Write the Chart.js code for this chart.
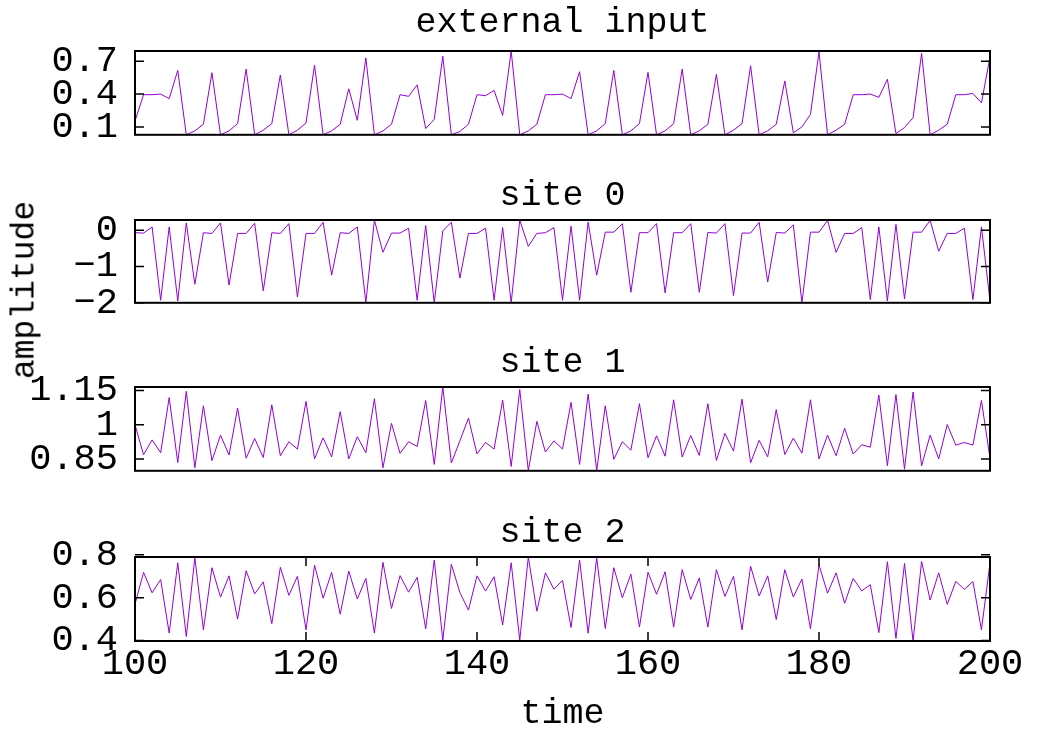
<!DOCTYPE html>
<html>
<head>
<meta charset="utf-8">
<script src="https://cdn.jsdelivr.net/npm/chart.js@4/dist/chart.umd.min.js"></script>
<style>
  body { margin: 0; background: #fff; width: 1037px; height: 731px; position: relative; overflow: hidden; }
  .panel { position: absolute; left: 0; width: 1037px; }
  #ylab { position: absolute; left: 25px; top: 290px; transform: translate(-50%, -50%) rotate(-90deg);
          font-family: "Liberation Mono", monospace; font-size: 33px; white-space: nowrap; color: #000; }
</style>
</head>
<body>
<div class="panel" style="top:4px;height:170px"><canvas id="c0"></canvas></div>
<div class="panel" style="top:177px;height:165px"><canvas id="c1"></canvas></div>
<div class="panel" style="top:344px;height:166px"><canvas id="c2"></canvas></div>
<div class="panel" style="top:514px;height:217px"><canvas id="c3"></canvas></div>
<div id="ylab">amplitude</div>
<script>
// sample times 100..200
const times = Array.from({ length: 101 }, (_, i) => 100 + i);

const extInput = [
  0.154, 0.394, 0.394, 0.400, 0.358, 0.616, 0.028, 0.064, 0.124, 0.595,
  0.028, 0.064, 0.130, 0.628, 0.028, 0.070, 0.130, 0.574, 0.028, 0.070,
  0.136, 0.664, 0.028, 0.064, 0.124, 0.448, 0.160, 0.730, 0.028, 0.064,
  0.124, 0.394, 0.379, 0.484, 0.085, 0.169, 0.745, 0.028, 0.058, 0.124,
  0.394, 0.385, 0.433, 0.205, 0.793, 0.028, 0.064, 0.124, 0.394, 0.394,
  0.400, 0.358, 0.604, 0.028, 0.064, 0.130, 0.616, 0.028, 0.064, 0.130,
  0.598, 0.028, 0.064, 0.130, 0.628, 0.028, 0.064, 0.124, 0.580, 0.028,
  0.070, 0.130, 0.658, 0.028, 0.064, 0.124, 0.520, 0.046, 0.100, 0.214,
  0.784, 0.028, 0.070, 0.124, 0.394, 0.394, 0.400, 0.370, 0.535, 0.040,
  0.094, 0.184, 0.772, 0.028, 0.070, 0.124, 0.394, 0.394, 0.406, 0.319,
  0.739
];

const site0 = [
  -0.07, -0.08, 0.09, -1.93, 0.09, -1.95, 0.20, -1.49, -0.07, -0.09,
  0.20, -1.51, -0.09, -0.09, 0.19, -1.67, -0.07, -0.09, 0.18, -1.84,
  -0.09, -0.09, 0.22, -1.24, -0.07, -0.09, 0.09, -2.00, 0.28, -0.61,
  -0.08, -0.08, 0.055, -1.93, 0.127, -2.00, -0.02, 0.22, -1.32, -0.09,
  -0.09, 0.055, -1.93, 0.07, -2.00, 0.28, -0.445, -0.09, -0.07, 0.07,
  -1.93, 0.11, -1.93, 0.22, -1.24, -0.055, -0.055, 0.18, -1.71, -0.07,
  -0.07, 0.18, -1.73, -0.07, -0.07, 0.18, -1.71, -0.064, -0.08, 0.18,
  -1.80, -0.08, -0.08, 0.22, -1.43, -0.064, -0.08, 0.145, -2.00, -0.055,
  -0.055, 0.27, -0.61, -0.09, -0.09, 0.07, -1.91, 0.09, -1.95, 0.16,
  -1.89, -0.055, -0.055, 0.27, -0.58, -0.09, -0.09, 0.055, -1.91, 0.09,
  -1.95
];

const site1 = [
  1.000, 0.869, 0.934, 0.878, 1.119, 0.835, 1.146, 0.812, 1.083, 0.843,
  0.955, 0.868, 1.073, 0.854, 0.940, 0.857, 1.087, 0.865, 0.926, 0.894,
  1.102, 0.851, 0.943, 0.860, 1.057, 0.851, 0.948, 0.878, 1.114, 0.812,
  1.006, 0.875, 0.926, 0.905, 1.106, 0.827, 1.165, 0.833, 0.930, 1.029,
  0.873, 0.923, 0.894, 1.108, 0.818, 1.154, 0.799, 1.015, 0.881, 0.930,
  0.894, 1.098, 0.827, 1.134, 0.799, 1.083, 0.849, 0.926, 0.889, 1.092,
  0.856, 0.952, 0.863, 1.109, 0.859, 0.953, 0.866, 1.092, 0.844, 0.962,
  0.885, 1.112, 0.834, 0.932, 0.860, 1.066, 0.870, 0.942, 0.876, 1.109,
  0.851, 0.955, 0.865, 0.985, 0.872, 0.913, 0.902, 1.130, 0.821, 1.132,
  0.806, 1.143, 0.821, 0.955, 0.851, 1.001, 0.911, 0.923, 0.911, 1.106,
  0.853
];

const site2 = [
  0.570, 0.718, 0.623, 0.685, 0.435, 0.763, 0.419, 0.787, 0.450, 0.740,
  0.603, 0.702, 0.500, 0.726, 0.618, 0.674, 0.479, 0.742, 0.611, 0.700,
  0.450, 0.752, 0.598, 0.718, 0.523, 0.724, 0.594, 0.690, 0.435, 0.765,
  0.550, 0.703, 0.626, 0.695, 0.455, 0.776, 0.402, 0.756, 0.624, 0.542,
  0.702, 0.631, 0.698, 0.473, 0.763, 0.402, 0.790, 0.537, 0.716, 0.640,
  0.681, 0.461, 0.776, 0.434, 0.787, 0.456, 0.740, 0.600, 0.710, 0.463,
  0.719, 0.616, 0.721, 0.463, 0.731, 0.592, 0.692, 0.463, 0.731, 0.606,
  0.700, 0.450, 0.747, 0.608, 0.702, 0.498, 0.731, 0.603, 0.687, 0.455,
  0.753, 0.621, 0.716, 0.574, 0.690, 0.632, 0.661, 0.437, 0.768, 0.410,
  0.760, 0.398, 0.769, 0.589, 0.716, 0.569, 0.676, 0.639, 0.676, 0.450,
  0.763
];

const titles = ["external input", "site 0", "site 1", "site 2"];
const yTicks = [[0.1, 0.4, 0.7], [-2, -1, 0], [0.85, 1, 1.15], [0.4, 0.6, 0.8]];
const xTicks = [100, 120, 140, 160, 180, 200];

const FONT = "'Liberation Mono', monospace";
const LINE = "#9400d3";

// gnuplot-style frame with inward tick marks
const frame = {
  id: "frame",
  afterDatasetsDraw(chart) {
    const { ctx, chartArea: a, scales } = chart;
    ctx.save();
    ctx.strokeStyle = "#000";
    ctx.lineWidth = 1.5;
    ctx.beginPath();
    scales.y.ticks.forEach(t => {
      const y = scales.y.getPixelForValue(t.value);
      ctx.moveTo(a.left, y); ctx.lineTo(a.left + 9, y);
      ctx.moveTo(a.right, y); ctx.lineTo(a.right - 9, y);
    });
    if (scales.x.options.display) {
      scales.x.ticks.forEach(t => {
        const x = scales.x.getPixelForValue(t.value);
        ctx.moveTo(x, a.bottom); ctx.lineTo(x, a.bottom - 9);
        ctx.moveTo(x, a.top); ctx.lineTo(x, a.top + 9);
      });
    }
    ctx.stroke();
    ctx.lineWidth = 2;
    ctx.strokeRect(a.left, a.top, a.right - a.left, a.bottom - a.top);
    ctx.restore();
  }
};

const series = [extInput, site0, site1, site2];

series.forEach((vals, k) => {
  const last = k === series.length - 1;
  const tickFont = { family: FONT, size: 37, lineHeight: 1.2 };
  new Chart(document.getElementById("c" + k), {
    type: "line",
    data: {
      datasets: [{
        data: vals.map((v, i) => ({ x: times[i], y: v })),
        borderColor: LINE,
        borderWidth: 1,
        pointRadius: 0,
        tension: 0,
        fill: false
      }]
    },
    options: {
      responsive: true,
      maintainAspectRatio: false,
      animation: false,
      layout: { padding: { top: 1, right: 47, bottom: last ? 0 : 20, left: 0 } },
      plugins: {
        legend: { display: false },
        tooltip: { enabled: false },
        title: {
          display: true,
          fullSize: false,
          text: titles[k],
          color: "#000",
          font: { family: FONT, size: 35, weight: "normal", lineHeight: 1 },
          padding: { top: 0, bottom: k === 0 ? 11 : 7 }
        }
      },
      scales: {
        x: {
          type: "linear",
          min: 100,
          max: 200,
          display: last,
          grid: { display: false, drawTicks: false },
          border: { display: false },
          ticks: { color: "#000", font: tickFont, padding: 1, maxRotation: 0, autoSkip: false },
          afterBuildTicks: s => { s.ticks = xTicks.map(v => ({ value: v })); },
          title: {
            display: last,
            text: "time",
            color: "#000",
            font: { family: FONT, size: 35, lineHeight: 1 },
            padding: { top: 0, bottom: 0 }
          },
          afterFit: s => { if (last) s.height = 90; }
        },
        y: {
          min: Math.min(...vals),
          max: Math.max(...vals),
          grid: { display: false, drawTicks: false },
          border: { display: false },
          ticks: {
            color: "#000",
            font: tickFont,
            padding: 17,
            autoSkip: false,
            callback: v => String(v).replace("-", "\u2212")
          },
          afterBuildTicks: s => { s.ticks = yTicks[k].map(v => ({ value: v })); },
          afterFit: s => { s.width = 135; }
        }
      }
    },
    plugins: [frame]
  });
});
</script>
</body>
</html>
